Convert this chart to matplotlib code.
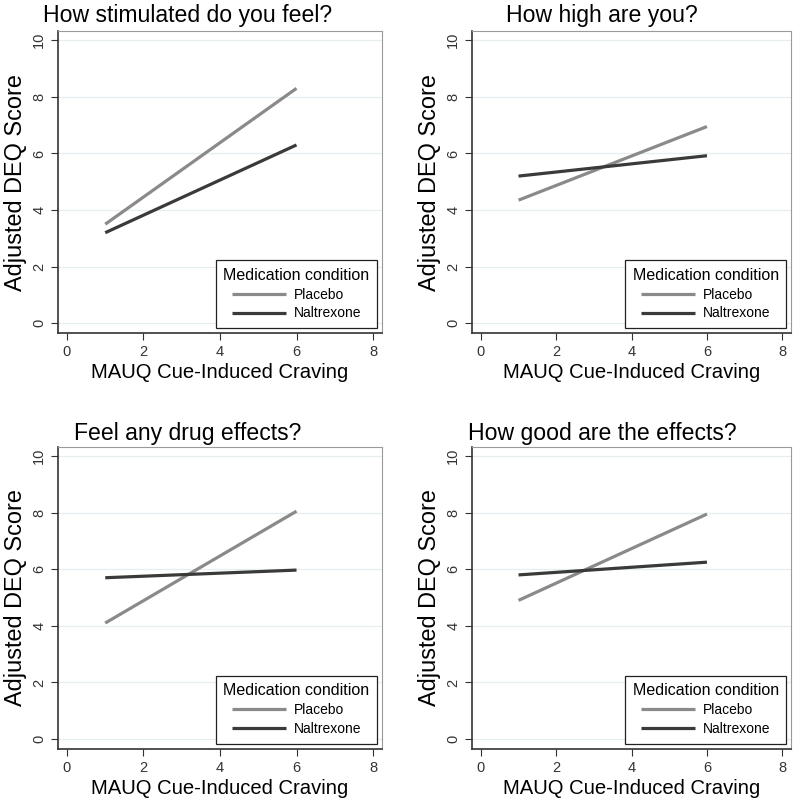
import matplotlib
matplotlib.use("Agg")
import matplotlib.pyplot as plt

plt.rcParams['font.family'] = ['Liberation Sans', 'DejaVu Sans']

# panel titles
titles = ["How stimulated do you feel?", "How high are you?",
          "Feel any drug effects?", "How good are the effects?"]

# craving values at which the fitted lines are drawn
craving = [1, 6]

# adjusted DEQ score, start and end of each fitted line
placebo = [[3.5, 8.3], [4.35, 6.95], [4.1, 8.05], [4.9, 7.95]]
naltrexone = [[3.2, 6.3], [5.2, 5.92], [5.7, 5.97], [5.8, 6.25]]

x_ticks = [0, 2, 4, 6, 8]
y_ticks = [0, 2, 4, 6, 8, 10]

# axes boxes in figure fractions (left, bottom, width, height)
boxes = [(0.0725, 0.583, 0.405, 0.378), (0.59, 0.583, 0.399, 0.378),
         (0.0725, 0.0626, 0.405, 0.378), (0.59, 0.0626, 0.399, 0.378)]
title_x = [0.235, 0.7525, 0.235, 0.7525]
title_y = [0.980, 0.980, 0.458, 0.458]

fig = plt.figure(figsize=(8, 7.99), dpi=100)

for i in range(4):
    ax = fig.add_axes(boxes[i])
    ax.plot(craving, placebo[i], color='#8a8a8a', lw=2.3,
            solid_capstyle='butt', label='Placebo')
    ax.plot(craving, naltrexone[i], color='#3a3a3a', lw=2.3,
            solid_capstyle='butt', label='Naltrexone')

    ax.set_xlim(-0.235, 8.235)
    ax.set_ylim(-0.35, 10.32)
    ax.set_xticks(x_ticks)
    ax.set_yticks(y_ticks)
    ax.tick_params(axis='both', direction='out', length=5, width=0.8,
                   colors='#333333', labelsize=10.5, labelcolor='#333333')
    ax.tick_params(axis='y', labelrotation=90)
    for lab in ax.get_yticklabels():
        lab.set_va('center')
    ax.grid(axis='y', color='#e6eef0', lw=0.9)
    ax.set_axisbelow(True)

    for side in ['left', 'bottom']:
        ax.spines[side].set_color('#333333')
        ax.spines[side].set_linewidth(1.2)
    for side in ['top', 'right']:
        ax.spines[side].set_color('#9a9a9a')
        ax.spines[side].set_linewidth(0.8)

    ax.set_xlabel("MAUQ Cue-Induced Craving", fontsize=14.6, labelpad=3)
    ax.set_ylabel("Adjusted DEQ Score", fontsize=16.9, labelpad=4)

    leg = ax.legend(title="Medication condition", loc='lower right',
                    bbox_to_anchor=(0.985, 0.017), borderaxespad=0,
                    fancybox=False, edgecolor='#222222', fontsize=10,
                    title_fontsize=11.5, handlelength=3.9, handletextpad=0.58,
                    borderpad=0.55, labelspacing=0.35, framealpha=1)
    leg.get_frame().set_linewidth(0.9)
    leg._legend_box.align = 'center'

    fig.text(title_x[i], title_y[i], titles[i], fontsize=16.6, ha='center', va='center')

fig.savefig("out.png", dpi=100)
